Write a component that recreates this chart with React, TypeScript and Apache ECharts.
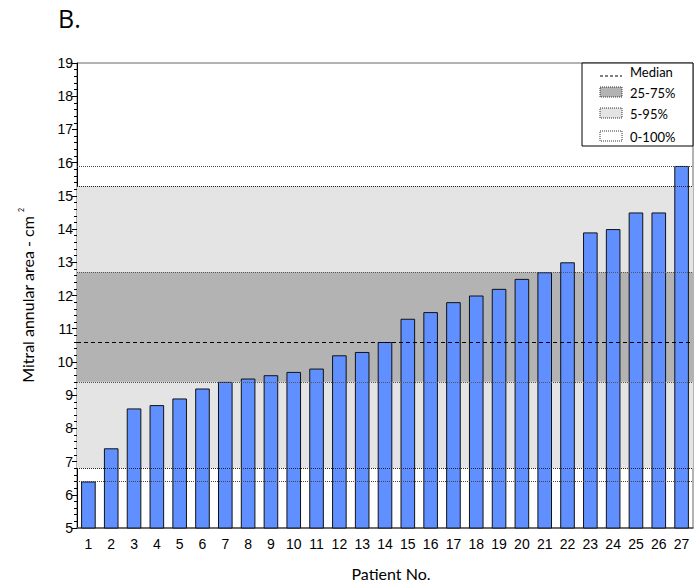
import React, { useEffect, useRef } from "react";
import * as echarts from "echarts";

const patients = ["1","2","3","4","5","6","7","8","9","10","11","12","13","14","15","16","17","18","19","20","21","22","23","24","25","26","27"];
const areas = [6.4, 7.4, 8.6, 8.7, 8.9, 9.2, 9.4, 9.5, 9.6, 9.7, 9.8, 10.2, 10.3, 10.6, 11.3, 11.5, 11.8, 12.0, 12.2, 12.5, 12.7, 13.0, 13.9, 14.0, 14.5, 14.5, 15.9];
const median = 10.6;
const iqr = [9.4, 12.7];
const p5_95 = [6.8, 15.3];
const range0_100 = [6.4, 15.9];
const legendLabels = ["Median", "25-75%", "5-95%", "0-100%"];

const TITLE_FONT = "Lato, 'Open Sans', sans-serif";
const TICK_FONT = "'Liberation Sans', Arial, sans-serif";

export default function App() {
  const ref = useRef<HTMLDivElement>(null);
  useEffect(() => {
    if (!ref.current) return;
    const chart = echarts.init(ref.current, undefined, { renderer: "svg" });
    const dotted = { type: "dotted" as const, color: "#444", width: 1 };
    chart.setOption({
      animation: false,
      backgroundColor: "#fff",
      grid: { left: 77, right: 6, top: 63, bottom: 52, show: true, borderColor: "#666", borderWidth: 1, backgroundColor: "transparent" },
      xAxis: {
        type: "category",
        data: patients,
        name: "Patient No.",
        nameLocation: "middle",
        nameGap: 37,
        nameTextStyle: { fontFamily: TITLE_FONT, fontSize: 16, color: "#000", padding: [0, 0, 0, 12] },
        axisLine: { lineStyle: { color: "#555", width: 1.5 } },
        axisTick: { alignWithLabel: true, length: 5, lineStyle: { color: "#333" } },
        axisLabel: { fontFamily: TICK_FONT, fontSize: 14, color: "#000", margin: 9, interval: 0 },
      },
      yAxis: {
        type: "value",
        min: 5,
        max: 19,
        interval: 1,
        name: "Mitral annular area - cm{s|2}",
        nameLocation: "middle",
        nameGap: 40,
        nameTextStyle: {
          fontFamily: TITLE_FONT,
          fontSize: 16,
          color: "#000",
          lineHeight: 20,
          rich: { s: { fontFamily: TITLE_FONT, fontSize: 7, color: "#000", verticalAlign: "top", lineHeight: 20, padding: [0, 0, 0, 4] } },
        },
        axisLine: { show: true, lineStyle: { color: "#000", width: 1 } },
        axisTick: { show: true, length: 5, lineStyle: { color: "#000" } },
        minorTick: { show: true, splitNumber: 5, length: 3, lineStyle: { color: "#000" } },
        splitLine: { show: false },
        axisLabel: { fontFamily: TICK_FONT, fontSize: 14, color: "#000", margin: 4 },
      },
      series: [
        {
          type: "line",
          data: [],
          z: 1,
          silent: true,
          markArea: {
            silent: true,
            label: { show: false },
            data: [
              [{ yAxis: p5_95[0], itemStyle: { color: "#e4e4e4" } }, { yAxis: p5_95[1] }],
              [{ yAxis: iqr[0], itemStyle: { color: "#b3b3b3" } }, { yAxis: iqr[1] }],
            ],
          },
          markLine: {
            silent: true,
            symbol: "none",
            label: { show: false },
            data: [
              { yAxis: range0_100[0], lineStyle: dotted },
              { yAxis: range0_100[1], lineStyle: dotted },
              { yAxis: p5_95[0], lineStyle: { ...dotted, color: "#222" } },
              { yAxis: p5_95[1], lineStyle: { ...dotted, color: "#222" } },
              { yAxis: iqr[0], lineStyle: { ...dotted, color: "#555" } },
              { yAxis: iqr[1], lineStyle: { ...dotted, color: "#555" } },
              { yAxis: median, lineStyle: { type: [4, 3], color: "#000", width: 1 } },
            ],
          },
        },
        {
          type: "bar",
          data: areas,
          z: 3,
          barCategoryGap: "36%",
          itemStyle: { color: "#6090ff", borderColor: "#111", borderWidth: 1 },
        },
      ],
      graphic: [
        { type: "text", left: 58, top: 5, style: { text: "B.", fontFamily: "'Open Sans', sans-serif", fontSize: 25, fill: "#000" } },
        { type: "rect", shape: { x: 582, y: 63, width: 111, height: 83 }, style: { fill: "#fff", stroke: "#000", lineWidth: 1 }, z: 10 },
        { type: "line", shape: { x1: 600, y1: 76, x2: 622, y2: 76 }, style: { stroke: "#000", lineWidth: 1, lineDash: [3, 2] }, z: 11 },
        { type: "rect", shape: { x: 600, y: 87, width: 22, height: 10 }, style: { fill: "#b3b3b3", stroke: "#333", lineWidth: 1, lineDash: [1, 1] }, z: 11 },
        { type: "rect", shape: { x: 600, y: 108, width: 22, height: 10 }, style: { fill: "#e4e4e4", stroke: "#333", lineWidth: 1, lineDash: [1, 1] }, z: 11 },
        { type: "rect", shape: { x: 600, y: 131, width: 22, height: 10 }, style: { fill: "#fff", stroke: "#333", lineWidth: 1, lineDash: [1, 1] }, z: 11 },
        ...legendLabels.map((t, i) => ({
          type: "text",
          x: 630,
          y: [72, 93, 114, 137][i],
          z: 11,
          style: { text: t, fontFamily: TITLE_FONT, fontSize: 13, fill: "#000", verticalAlign: "middle" },
        })),
      ],
    });
    return () => chart.dispose();
  }, []);
  return <div ref={ref} style={{ width: 699, height: 586, position: "absolute", left: 0, top: 0 }} />;
}
